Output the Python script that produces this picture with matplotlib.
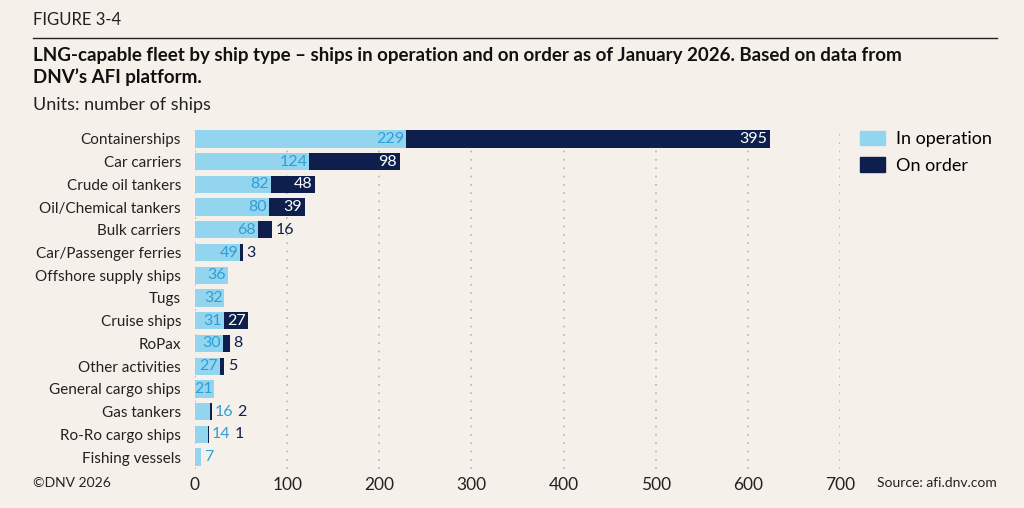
import numpy as np
import matplotlib.pyplot as plt
from matplotlib.patches import Patch

# Data
ship_types = ['Containerships', 'Car carriers', 'Crude oil tankers', 'Oil/Chemical tankers',
              'Bulk carriers', 'Car/Passenger ferries', 'Offshore supply ships', 'Tugs',
              'Cruise ships', 'RoPax', 'Other activities', 'General cargo ships',
              'Gas tankers', 'Ro-Ro cargo ships', 'Fishing vessels']
in_operation = [229, 124, 82, 80, 68, 49, 36, 32, 31, 30, 27, 21, 16, 14, 7]
on_order = [395, 98, 48, 39, 16, 3, 0, 0, 27, 8, 5, 0, 2, 1, 0]
x_ticks = [0, 100, 200, 300, 400, 500, 600, 700]

BG = '#f6f0ea'
LIGHT = '#93d5ef'
DARK = '#0e1f4d'
BLUE_TXT = '#2e9fd6'

plt.rcParams['font.family'] = ['Lato', 'DejaVu Sans']

fig = plt.figure(figsize=(10.24, 5.08), dpi=100, facecolor=BG)
ax = fig.add_axes([195 / 1024, 1 - 468.5 / 508, (840 - 195) / 1024, (468.5 - 127.5) / 508])
ax.set_facecolor(BG)

y = np.arange(len(ship_types))
ax.barh(y, in_operation, height=0.76, color=LIGHT, zorder=2)
ax.barh(y, on_order, left=in_operation, height=0.76, color=DARK, zorder=2)

fs = 11.5
for i, (a, b) in enumerate(zip(in_operation, on_order)):
    total = a + b
    if a >= 20:
        ax.text(a - 2, i, str(a), ha='right', va='center', color=BLUE_TXT, fontsize=fs, zorder=3)
        x_next = total + 4
    else:
        ax.text(total + 3, i, str(a), ha='left', va='center', color=BLUE_TXT, fontsize=fs, zorder=3)
        x_next = total + 3 + 7.5 * len(str(a)) + 10
    if b == 0:
        continue
    if b >= 25:
        ax.text(total - 3, i, str(b), ha='right', va='center', color='white', fontsize=fs, zorder=3)
    else:
        ax.text(x_next, i, str(b), ha='left', va='center', color=DARK, fontsize=fs, zorder=3)

ax.set_xlim(0, 700)
ax.set_ylim(len(ship_types) - 0.5, -0.5)
ax.set_xticks(x_ticks)
ax.set_yticks(y)
ax.set_yticklabels(ship_types, fontsize=11, color='#222222')
ax.tick_params(axis='x', length=0, pad=6, labelsize=12.5, labelcolor='#222222')
ax.tick_params(axis='y', length=0, pad=10)
for t in x_ticks:
    ax.axvline(t, color='#b5b5b5', linestyle=(0, (1, 4)), linewidth=1.2, zorder=1)
for s in ax.spines.values():
    s.set_visible(False)

handles = [Patch(color=LIGHT, label='In operation'), Patch(color=DARK, label='On order')]
fig.legend(handles=handles, loc='upper left', bbox_to_anchor=(860 / 1024, 1 - 131 / 508),
           frameon=False, fontsize=13, handlelength=1.4, handleheight=0.85,
           handletextpad=0.6, labelspacing=0.55, borderpad=0, borderaxespad=0)

fig.text(33 / 1024, 1 - 20 / 508, 'FIGURE 3-4', fontsize=12, va='center', color='#222222')
fig.add_artist(plt.Line2D([33 / 1024, 997 / 1024], [1 - 38 / 508, 1 - 38 / 508],
                          color='#222222', linewidth=1))
fig.text(33 / 1024, 1 - 55 / 508,
         'LNG-capable fleet by ship type \u2013 ships in operation and on order as of January 2026. Based on data from',
         fontsize=13.5, fontweight='bold', va='center', color='#111111')
fig.text(33 / 1024, 1 - 77 / 508, 'DNV\u2019s AFI platform.',
         fontsize=13.5, fontweight='bold', va='center', color='#111111')
fig.text(33 / 1024, 1 - 105 / 508, 'Units: number of ships', fontsize=13, va='center', color='#222222')
fig.text(33 / 1024, 1 - 483 / 508, '\u00a9DNV 2026', fontsize=10, va='center', color='#222222')
fig.text(997 / 1024, 1 - 483 / 508, 'Source: afi.dnv.com', fontsize=10, va='center', ha='right',
         color='#222222')

fig.savefig('out.png', dpi=100, facecolor=BG)
